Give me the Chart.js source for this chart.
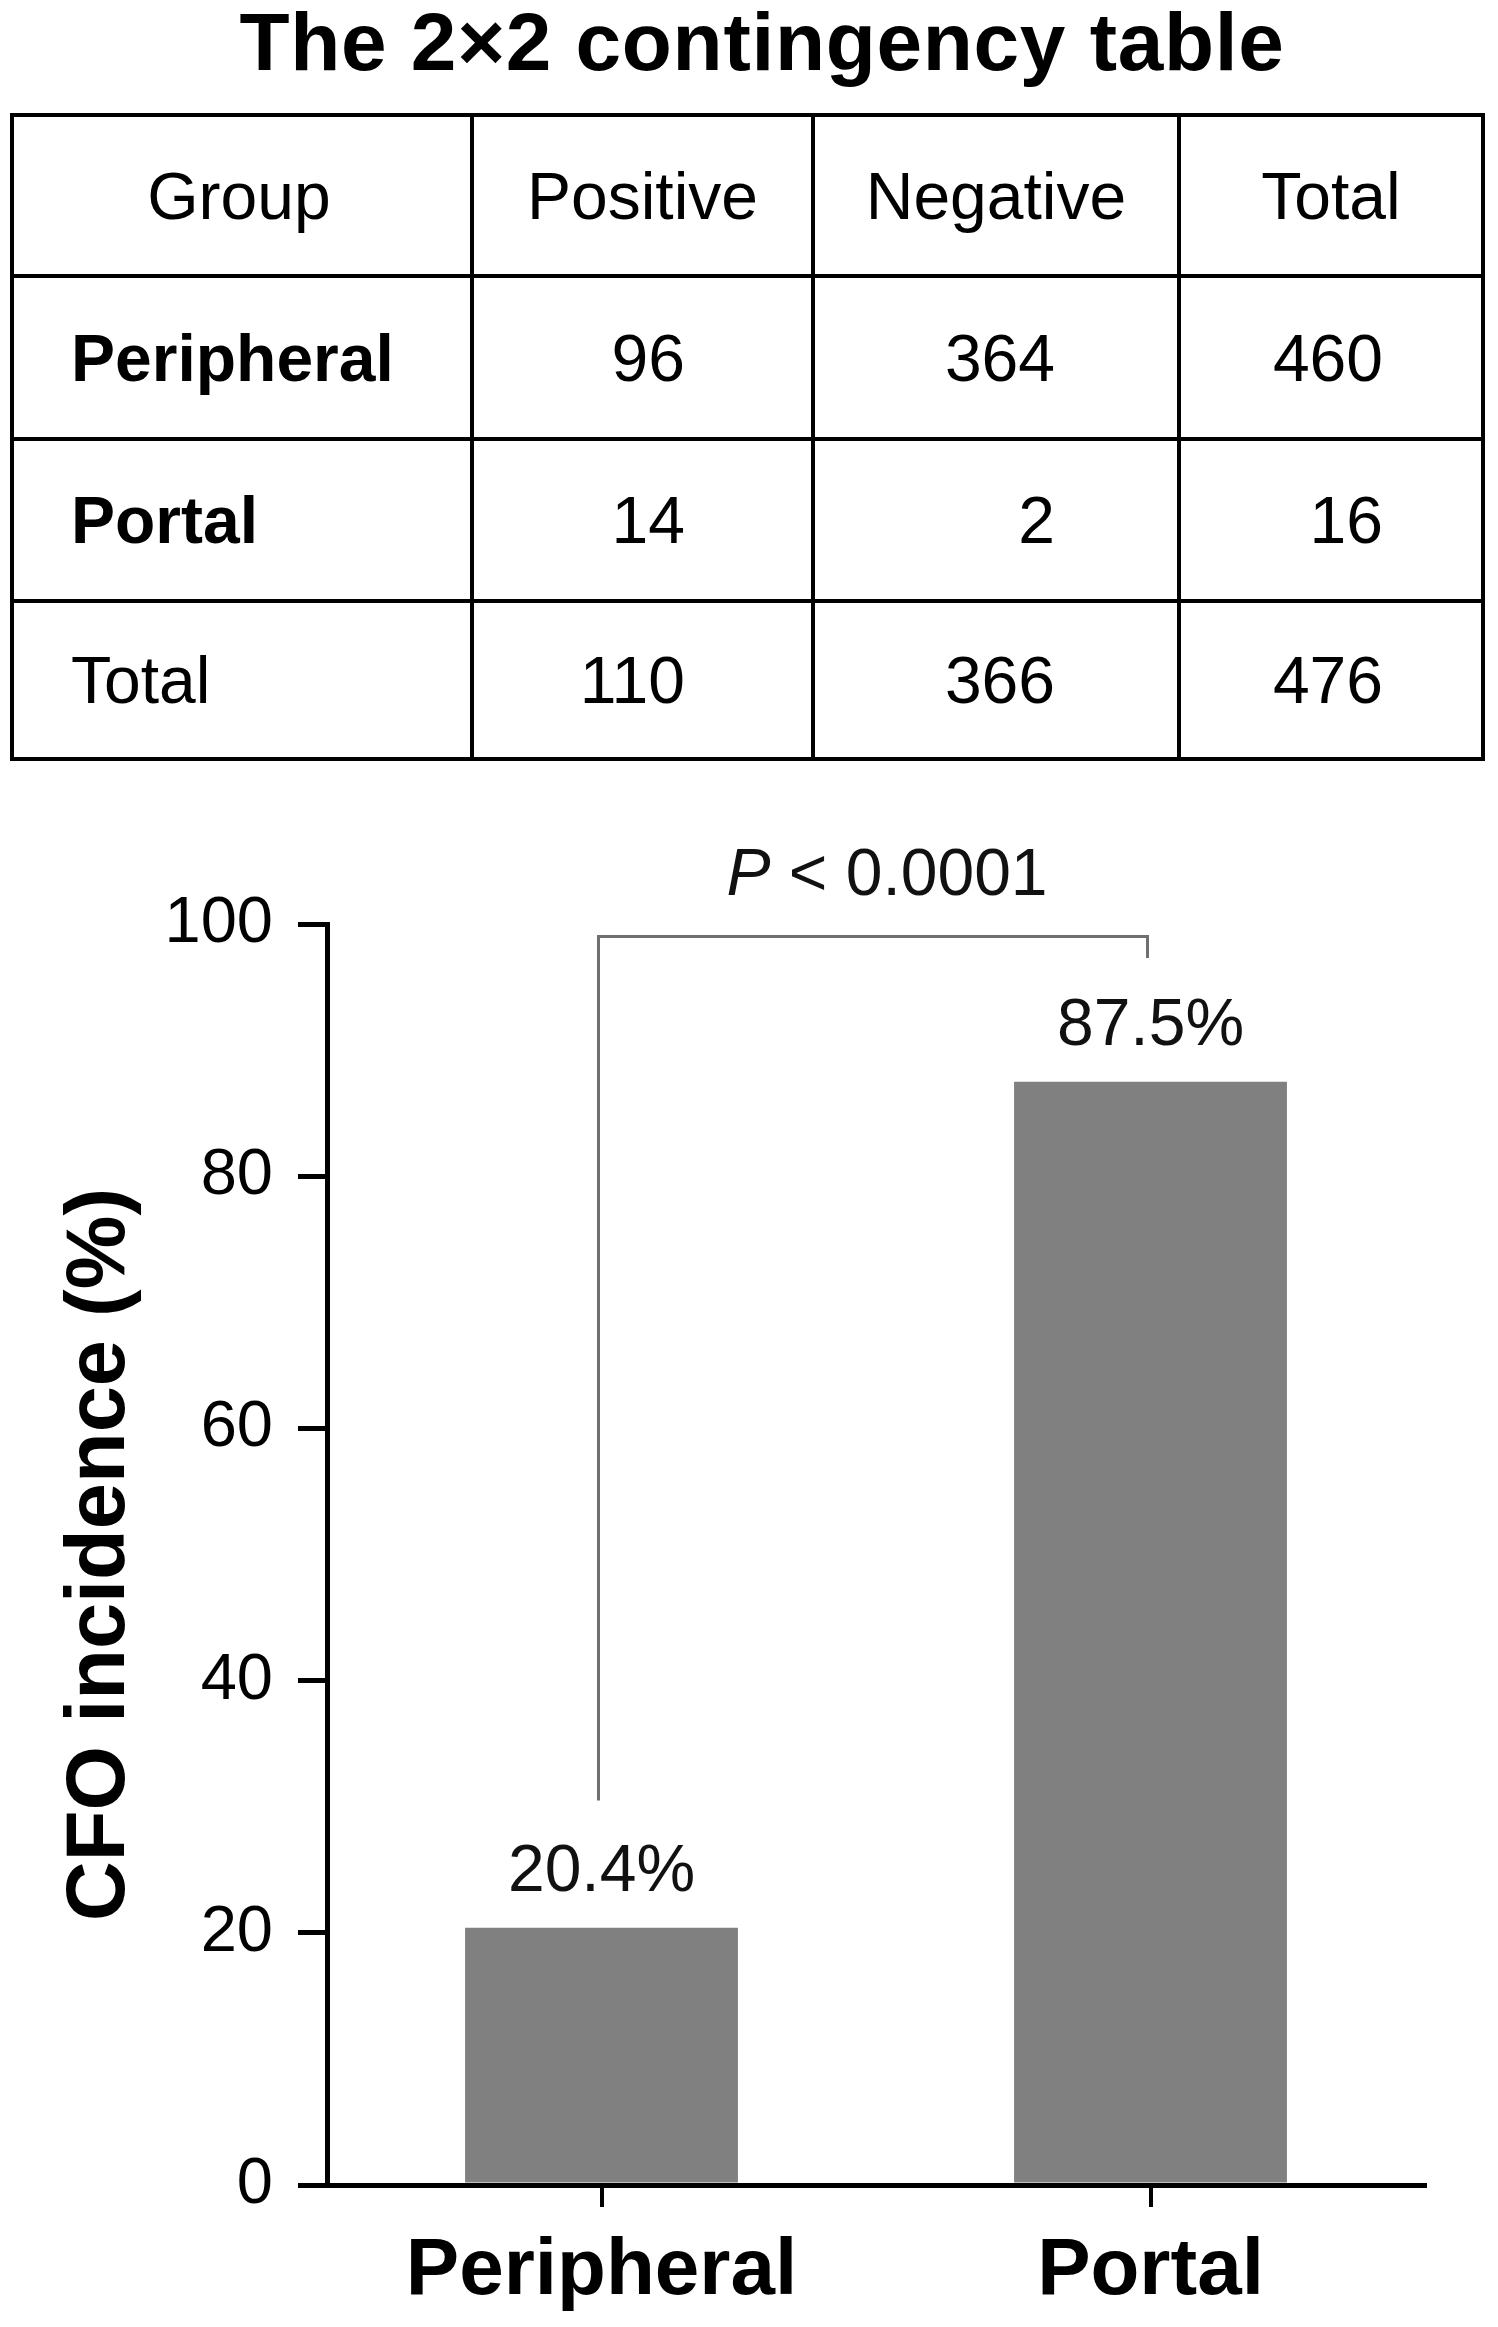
<!DOCTYPE html>
<html>
<head>
<meta charset="utf-8">
<script src="https://cdn.jsdelivr.net/npm/chart.js@4.4.1/dist/chart.umd.min.js"></script>
<style>
  html, body { margin:0; padding:0; background:#fff; width:1498px; height:2327px; overflow:hidden; }
  body { position:relative; font-family:"Liberation Sans", Arial, sans-serif; color:#000; }
  #title { position:absolute; left:0; top:1px; width:1524px; text-align:center; font-weight:bold; font-size:82px; line-height:82px; letter-spacing:0.7px; white-space:nowrap; }
  .ln { position:absolute; background:#000; }
  .cell { position:absolute; display:flex; align-items:center; font-size:66px; white-space:nowrap; box-sizing:border-box; }
  #wrap { position:absolute; left:0; top:780px; width:1498px; height:1547px; }
</style>
</head>
<body>
<div id="title">The 2×2 contingency table</div>
<div id="table"></div>
<div id="wrap"><canvas id="c" width="1498" height="1547"></canvas></div>
<script>
// ---- table data ----
const tableHeader = ['Group', 'Positive', 'Negative', 'Total'];
const rowLabels = ['Peripheral', 'Portal', 'Total'];
const positiveCounts = [96, 14, 110];
const negativeCounts = [364, 2, 366];
const rowTotals = [460, 16, 476];

// ---- chart data ----
const categories = ['Peripheral', 'Portal'];
const incidence = [20.4, 87.5];
const valueLabels = ['20.4%', '87.5%'];
const pValueText = 'P < 0.0001';
const bracketTop = 99;
const bracketEnds = [30.5, 97.3];

// ---- build table ----
(function buildTable(){
  const t = document.getElementById('table');
  const colEdges = [12, 472, 813, 1179, 1483];
  const rowEdges = [115, 276, 439, 601, 759];
  const lw = 4;
  colEdges.forEach(x => {
    const d = document.createElement('div'); d.className = 'ln';
    d.style.left = (x - lw/2) + 'px'; d.style.top = (rowEdges[0] - lw/2) + 'px';
    d.style.width = lw + 'px'; d.style.height = (rowEdges[4] - rowEdges[0] + lw) + 'px';
    t.appendChild(d);
  });
  rowEdges.forEach(y => {
    const d = document.createElement('div'); d.className = 'ln';
    d.style.left = (colEdges[0] - lw/2) + 'px'; d.style.top = (y - lw/2) + 'px';
    d.style.width = (colEdges[4] - colEdges[0] + lw) + 'px'; d.style.height = lw + 'px';
    t.appendChild(d);
  });
  const rows = [tableHeader];
  rowLabels.forEach((lab, i) => rows.push([lab, positiveCounts[i], negativeCounts[i], rowTotals[i]]));
  const rightPad = [0, 128, 124, 100];
  rows.forEach((r, ri) => {
    r.forEach((txt, ci) => {
      const d = document.createElement('div'); d.className = 'cell';
      d.textContent = String(txt);
      d.style.left = colEdges[ci] + 'px';
      d.style.width = (colEdges[ci+1] - colEdges[ci]) + 'px';
      d.style.top = rowEdges[ri] + 'px';
      d.style.height = (rowEdges[ri+1] - rowEdges[ri]) + 'px';
      if (ri === 0) {
        d.style.justifyContent = 'center';
        if (ci === 0) d.style.paddingRight = '6px';
      } else if (ci === 0) {
        d.style.justifyContent = 'flex-start';
        d.style.paddingLeft = '59px';
        if (ri <= 2) d.style.fontWeight = 'bold';
      } else {
        d.style.justifyContent = 'flex-end';
        d.style.paddingRight = rightPad[ci] + 'px';
      }
      t.appendChild(d);
    });
  });
})();

// ---- chart ----
const FONT = '"Liberation Sans", Arial, sans-serif';

const annotate = {
  id: 'annotate',
  afterDatasetsDraw(chart) {
    const ctx = chart.ctx;
    const xs = chart.scales.x, ys = chart.scales.y;
    const meta = chart.getDatasetMeta(0);
    ctx.save();
    // value labels
    ctx.fillStyle = '#111';
    ctx.font = '66px ' + FONT;
    ctx.textAlign = 'center';
    ctx.textBaseline = 'alphabetic';
    meta.data.forEach((bar, i) => {
      ctx.fillText(valueLabels[i], bar.x, bar.y - 37);
    });
    // bracket
    const x0 = xs.getPixelForValue(0) - 3;
    const x1 = xs.getPixelForValue(1) - 3;
    const yt = ys.getPixelForValue(bracketTop);
    ctx.strokeStyle = '#707070';
    ctx.lineWidth = 3;
    ctx.beginPath();
    ctx.moveTo(x0, ys.getPixelForValue(bracketEnds[0]));
    ctx.lineTo(x0, yt);
    ctx.lineTo(x1, yt);
    ctx.lineTo(x1, ys.getPixelForValue(bracketEnds[1]));
    ctx.stroke();
    // p value text
    const parts = pValueText.split(' ');
    const pPart = parts[0];
    const rest = ' ' + parts.slice(1).join(' ');
    ctx.fillStyle = '#111';
    ctx.font = 'italic 66px ' + FONT;
    const w1 = ctx.measureText(pPart).width;
    ctx.font = '66px ' + FONT;
    const w2 = ctx.measureText(rest).width;
    const cx = (x0 + x1) / 2 + 14;
    const start = cx - (w1 + w2) / 2;
    const by = yt - 42;
    ctx.textAlign = 'left';
    ctx.font = 'italic 66px ' + FONT;
    ctx.fillText(pPart, start, by);
    ctx.font = '66px ' + FONT;
    ctx.fillText(rest, start + w1, by);
    ctx.restore();
  }
};

new Chart(document.getElementById('c'), {
  type: 'bar',
  data: {
    labels: categories,
    datasets: [{
      data: incidence,
      backgroundColor: '#808080',
      borderWidth: 0,
      barPercentage: 0.497,
      categoryPercentage: 1.0
    }]
  },
  options: {
    responsive: false,
    animation: false,
    devicePixelRatio: 1,
    layout: { padding: { top: 144, right: 73, bottom: 0, left: 0 } },
    plugins: { legend: { display: false }, tooltip: { enabled: false }, title: { display: false } },
    scales: {
      x: {
        offset: true,
        grid: { display: true, drawOnChartArea: false, drawTicks: true, tickLength: 22, offset: false, color: '#000', lineWidth: 4 },
        border: { display: true, color: '#000', width: 5 },
        ticks: { color: '#000', padding: 17, font: { family: FONT, size: 80, weight: 'bold' }, maxRotation: 0 },
        afterFit(s) { s.height = 142; }
      },
      y: {
        min: 0, max: 100,
        grid: { display: true, drawOnChartArea: false, drawTicks: true, tickLength: 29, color: '#000', lineWidth: 5 },
        border: { display: true, color: '#000', width: 5 },
        ticks: { stepSize: 20, color: '#000', padding: 25, font: { family: FONT, size: 65 } },
        title: { display: true, text: 'CFO incidence (%)', color: '#000', padding: { top: 51, bottom: 0 }, font: { family: FONT, size: 83, weight: 'bold', lineHeight: 1.2 } },
        afterFit(s) { s.width = 327; }
      }
    }
  },
  plugins: [annotate]
});
</script>
</body>
</html>
